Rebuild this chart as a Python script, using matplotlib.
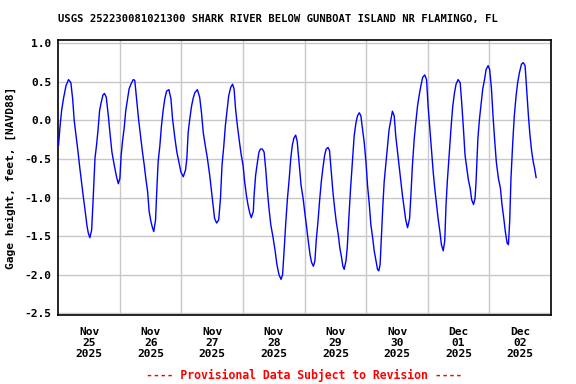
import datetime as dt
import matplotlib
matplotlib.use("Agg")
import matplotlib.pyplot as plt

# gage height: hours since 2025-11-25 00:00, feet NAVD88
hours = [
    0.1, 0.7, 1.3, 2.0, 3.0, 4.0, 4.9, 5.6, 6.2, 6.9, 7.7, 8.4, 9.2, 9.9, 10.5,
    11.2, 11.7, 12.3, 13.0, 13.6, 14.3, 14.9, 15.5, 16.1, 16.7, 17.4, 18.0, 18.7,
    19.5, 20.1, 20.9, 21.8, 22.7, 23.4, 24.0, 24.5, 25.0, 25.7, 26.3, 27.0, 27.6,
    28.3, 29.2, 29.8, 30.4, 31.3, 32.0, 32.8, 33.5, 34.1, 34.8, 35.4, 36.1, 36.7,
    37.2, 37.9, 38.3, 38.9, 39.6, 40.2, 40.9, 41.5, 42.2, 43.1, 43.9, 44.5, 45.4,
    46.2, 47.0, 47.8, 48.7, 49.6, 50.1, 50.6, 51.2, 51.9, 52.5, 53.2, 54.2, 55.1,
    55.8, 56.5, 57.3, 58.1, 59.0, 59.7, 60.3, 60.9, 61.7, 62.5, 63.2, 63.8, 64.5,
    65.1, 65.8, 66.4, 67.2, 67.9, 68.5, 69.1, 69.8, 70.6, 71.3, 72.0, 72.6, 73.3,
    73.9, 74.6, 75.2, 76.0, 76.3, 76.9, 77.6, 78.2, 78.8, 79.5, 80.2, 80.8, 81.5,
    82.1, 82.8, 83.7, 84.5, 85.2, 86.0, 86.8, 87.4, 87.9, 88.6, 89.3, 89.9, 90.6,
    91.2, 91.8, 92.5, 93.1, 93.8, 94.6, 95.4, 96.0, 96.8, 97.4, 98.1, 98.7, 99.4,
    100.0, 100.5, 101.2, 101.8, 102.5, 103.1, 103.8, 104.4, 105.1, 105.7, 106.4,
    107.0, 107.7, 108.3, 109.1, 109.7, 110.4, 110.9, 111.4, 112.1, 112.6, 113.3,
    113.9, 114.7, 115.3, 116.0, 116.6, 117.3, 117.9, 118.6, 119.2, 119.9, 120.5,
    121.2, 121.8, 122.5, 123.1, 123.8, 124.4, 124.9, 125.4, 125.9, 126.5, 127.0,
    127.7, 128.3, 128.9, 129.6, 130.2, 130.9, 131.5, 132.2, 132.8, 133.5, 134.1,
    134.8, 135.4, 136.1, 136.9, 137.4, 138.0, 138.7, 139.3, 140.0, 140.6, 141.3,
    142.0, 142.8, 143.5, 144.1, 144.8, 145.4, 146.1, 146.7, 147.4, 148.0, 148.7,
    149.3, 150.0, 150.6, 151.1, 151.6, 152.3, 153.1, 153.7, 154.4, 155.0, 155.8,
    156.6, 157.2, 157.9, 158.5, 159.2, 159.8, 160.5, 161.1, 161.8, 162.4, 162.8,
    163.5, 164.1, 164.8, 165.4, 166.1, 166.7, 167.5, 168.1, 168.8, 169.4, 170.1,
    170.7, 171.5, 172.3, 172.9, 173.6, 174.2, 174.9, 175.4, 175.9, 176.4, 177.1,
    177.7, 178.4, 179.0, 179.7, 180.5, 181.2, 181.9, 182.5, 183.2, 183.8, 184.5,
    185.1, 185.6, 186.2,
]
gage_ft = [
    -0.32, -0.07, 0.13, 0.28, 0.45, 0.53, 0.49, 0.28, 0.00, -0.19, -0.41, -0.62,
    -0.84, -1.03, -1.18, -1.37, -1.46, -1.52, -1.42, -1.01, -0.49, -0.32, -0.12,
    0.13, 0.23, 0.33, 0.35, 0.30, 0.06, -0.15, -0.41, -0.58, -0.73, -0.82, -0.75,
    -0.45, -0.28, -0.09, 0.13, 0.28, 0.41, 0.47, 0.53, 0.52, 0.32, 0.01, -0.19,
    -0.41, -0.58, -0.75, -0.92, -1.18, -1.31, -1.39, -1.44, -1.29, -0.97, -0.54,
    -0.32, -0.07, 0.14, 0.28, 0.38, 0.40, 0.28, 0.03, -0.22, -0.41, -0.54, -0.67,
    -0.73, -0.64, -0.49, -0.16, 0.01, 0.18, 0.28, 0.36, 0.40, 0.30, 0.10, -0.16,
    -0.33, -0.49, -0.71, -0.92, -1.09, -1.27, -1.33, -1.29, -1.01, -0.58, -0.33,
    -0.07, 0.14, 0.32, 0.43, 0.47, 0.41, 0.14, -0.07, -0.28, -0.45, -0.58, -0.79,
    -0.97, -1.09, -1.20, -1.26, -1.18, -0.97, -0.71, -0.54, -0.41, -0.37, -0.37,
    -0.41, -0.62, -0.92, -1.14, -1.35, -1.52, -1.69, -1.87, -2.00, -2.06, -2.00,
    -1.74, -1.35, -1.01, -0.79, -0.49, -0.32, -0.23, -0.19, -0.27, -0.54, -0.84,
    -1.01, -1.18, -1.39, -1.56, -1.74, -1.84, -1.89, -1.82, -1.56, -1.31, -1.05,
    -0.79, -0.62, -0.45, -0.37, -0.35, -0.39, -0.67, -0.92, -1.14, -1.31, -1.48,
    -1.65, -1.78, -1.89, -1.93, -1.82, -1.65, -1.22, -0.88, -0.49, -0.20, -0.03,
    0.06, 0.10, 0.06, -0.12, -0.28, -0.54, -0.84, -1.09, -1.35, -1.52, -1.69,
    -1.82, -1.93, -1.95, -1.87, -1.52, -1.09, -0.79, -0.54, -0.33, -0.12, 0.01,
    0.12, 0.06, -0.20, -0.41, -0.58, -0.79, -0.97, -1.14, -1.29, -1.39, -1.27,
    -0.97, -0.58, -0.24, -0.03, 0.19, 0.32, 0.45, 0.56, 0.59, 0.53, 0.19, -0.12,
    -0.37, -0.67, -0.88, -1.09, -1.27, -1.44, -1.61, -1.69, -1.56, -1.09, -0.79,
    -0.45, -0.07, 0.18, 0.36, 0.47, 0.53, 0.49, 0.23, -0.12, -0.45, -0.62, -0.77,
    -0.88, -1.03, -1.09, -1.01, -0.79, -0.24, 0.01, 0.23, 0.41, 0.53, 0.66, 0.71,
    0.66, 0.41, 0.06, -0.28, -0.54, -0.75, -0.88, -1.09, -1.27, -1.44, -1.59,
    -1.61, -1.31, -0.75, -0.28, 0.06, 0.32, 0.49, 0.62, 0.73, 0.75, 0.71, 0.41,
    0.06, -0.19, -0.41, -0.54, -0.62, -0.74,
]
day_labels = ["Nov\n25\n2025", "Nov\n26\n2025", "Nov\n27\n2025", "Nov\n28\n2025",
              "Nov\n29\n2025", "Nov\n30\n2025", "Dec\n01\n2025", "Dec\n02\n2025"]
y_ticks = [1.0, 0.5, 0.0, -0.5, -1.0, -1.5, -2.0, -2.5]

start = dt.datetime(2025, 11, 25)
times = [start + dt.timedelta(hours=h) for h in hours]
midnights = [start + dt.timedelta(days=d) for d in range(9)]
noons = [start + dt.timedelta(days=d, hours=12) for d in range(8)]

mono = {"family": "DejaVu Sans Mono", "weight": "bold"}
font = dict(mono, size=8.1)

fig = plt.figure(figsize=(5.76, 3.84), dpi=100)
ax = fig.add_axes([0.1012, 0.1797, 0.8554, 0.7161])

ax.plot(times, gage_ft, color="#0000ff", linewidth=1.0, zorder=3)

ax.set_xlim(midnights[0], midnights[-1])
ax.set_ylim(-2.522, 1.043)

# gridlines at midnight, labels at noon
ax.set_xticks(midnights[1:-1], minor=True)
ax.set_xticks(noons)
ax.set_xticklabels(day_labels, fontdict=font, linespacing=1.1)
ax.set_yticks(y_ticks)
ax.set_yticklabels([f"{v:.1f}" for v in y_ticks], fontdict=font)
ax.grid(True, which="minor", axis="x", color="#c8c8c8", linewidth=1.0)
ax.grid(True, which="major", axis="y", color="#c8c8c8", linewidth=1.0)
ax.tick_params(which="both", length=0)
ax.tick_params(axis="x", pad=9)
ax.tick_params(axis="y", pad=5)
for s in ax.spines.values():
    s.set_linewidth(1.2)
    s.set_color("black")

ax.set_ylabel("Gage height, feet, [NAVD88]", fontdict=font, labelpad=6)

fig.text(278 / 576, 1 - 19 / 384,
         "USGS 252230081021300 SHARK RIVER BELOW GUNBOAT ISLAND NR FLAMINGO, FL",
         ha="center", va="center", size=7.6, **mono)
fig.text(304 / 576, 1 - 375 / 384,
         "---- Provisional Data Subject to Revision ----",
         ha="center", va="center", color="red", size=8.3, **mono)

fig.savefig("out.png", dpi=100)
